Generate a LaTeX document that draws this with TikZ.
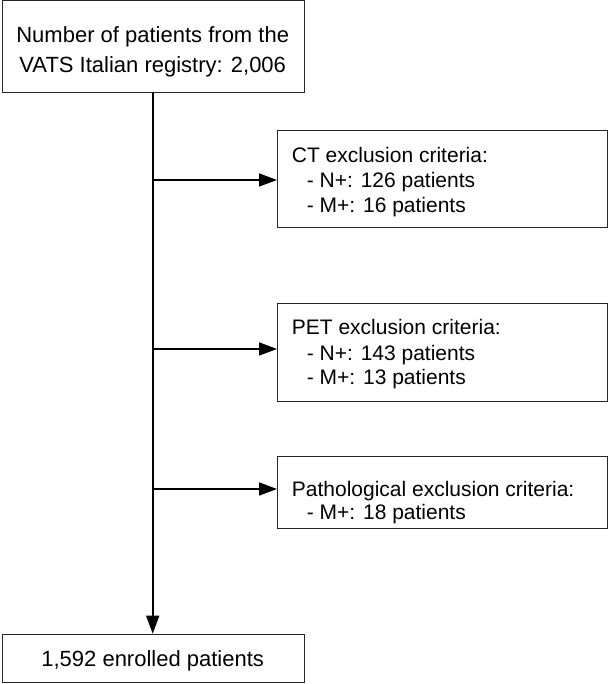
\documentclass[tikz,border=0pt]{standalone}
\usepackage{fontspec}
\setmainfont{Liberation Sans}
\usetikzlibrary{arrows.meta}
\begin{document}
\begin{tikzpicture}[x=1pt,y=1pt,
  boxstyle/.style={draw=black!85, line width=1.3pt, inner sep=0pt, anchor=south west},
  big/.style={font=\fontsize{22}{30}\selectfont, inner sep=0pt},
  small/.style={font=\fontsize{21}{25}\selectfont, inner sep=0pt, anchor=base west},
  arr/.style={line width=1.6pt, -{Triangle[length=18pt,width=13pt]}}]
\useasboundingbox (0,0) rectangle (610,684);
% boxes
\node[boxstyle, minimum width=302.5pt, minimum height=91.5pt] (top) at (1.5,591) {};
\node[boxstyle, minimum width=302.5pt, minimum height=48pt] (bot) at (1.5,1) {};
\node[boxstyle, minimum width=330pt, minimum height=97pt] (ct) at (277,456) {};
\node[boxstyle, minimum width=330pt, minimum height=98pt] (pet) at (277,282) {};
\node[boxstyle, minimum width=330pt, minimum height=72pt] (path) at (277,155) {};
% texts
\node[big, anchor=base] (t1) at (152.7,641) {Number of patients from the};
\node[big, anchor=base] (t2) at (152.7,611) {VATS Italian registry: 2,006};
\node[big, anchor=base] (b1) at (152.7,17.3) {1,592 enrolled patients};
\node[small] (c1) at (291.7,521) {CT exclusion criteria:};
\node[small] (c2) at (306.7,496) {- N+: 126 patients};
\node[small] (c3) at (306.7,471) {- M+: 16 patients};
\node[small] (p1) at (291.7,349) {PET exclusion criteria:};
\node[small] (p2) at (306.7,323.5) {- N+: 143 patients};
\node[small] (p3) at (306.7,299) {- M+: 13 patients};
\node[small] (q1) at (291.7,187.5) {Pathological exclusion criteria:};
\node[small] (q2) at (306.7,164) {- M+: 18 patients};
% connectors
\coordinate (s1) at (152.7,504);
\coordinate (s2) at (152.7,335);
\coordinate (s3) at (152.7,195);
\draw[arr] (top.south -| s1) -- (bot.north -| s1);
\draw[arr] (s1) -- (s1 -| ct.west);
\draw[arr] (s2) -- (s2 -| pet.west);
\draw[arr] (s3) -- (s3 -| path.west);
\end{tikzpicture}
\end{document}
